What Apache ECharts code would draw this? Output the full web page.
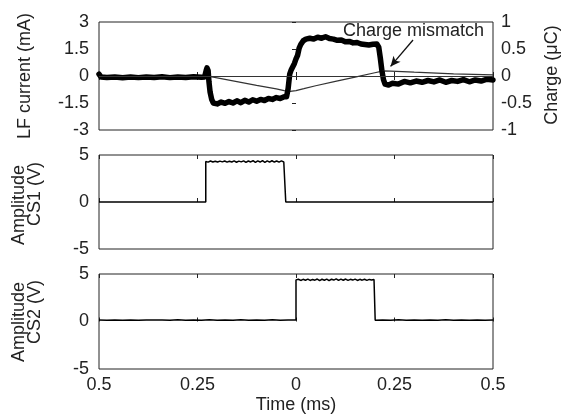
<!DOCTYPE html>
<html><head><meta charset="utf-8">
<script src="https://cdn.jsdelivr.net/npm/echarts@6/dist/echarts.min.js"></script>
<style>html,body{margin:0;padding:0;background:#fff}#c{width:562px;height:415px}</style>
</head><body><div id="c"></div>
<script>
// ---- tick labels ----
const xTickLabels = ['0.5','0.25','0','0.25','0.5'];

// ---- LF current (mA), thick line ----
const curTime = [-0.5,-0.495,-0.48,-0.46,-0.44,-0.42,-0.40,-0.38,-0.36,-0.34,-0.32,-0.30,-0.28,-0.26,-0.24,-0.232,
  -0.228,-0.226,-0.223,-0.221,-0.218,-0.214,-0.21,-0.2,-0.19,-0.18,-0.17,-0.16,-0.15,-0.14,-0.13,-0.12,-0.11,-0.10,
  -0.09,-0.08,-0.07,-0.06,-0.05,-0.04,-0.03,-0.024,-0.02,-0.016,-0.012,-0.008,-0.004,0.0,0.004,0.008,0.012,0.018,
  0.025,0.035,0.045,0.055,0.065,0.075,0.085,0.095,0.105,0.115,0.125,0.135,0.145,0.155,0.165,0.175,0.185,0.195,0.205,
  0.21,0.214,0.218,0.222,0.226,0.235,0.245,0.26,0.275,0.29,0.305,0.32,0.335,0.35,0.365,0.38,0.395,0.41,0.425,0.44,
  0.455,0.47,0.485,0.5];
const currentMA = [0.1,-0.05,-0.08,-0.05,-0.1,-0.06,-0.09,-0.05,-0.08,-0.04,-0.09,-0.06,-0.08,-0.04,-0.07,-0.05,
  0.3,0.45,0.3,-0.3,-0.9,-1.3,-1.5,-1.55,-1.45,-1.52,-1.42,-1.5,-1.38,-1.48,-1.35,-1.45,-1.32,-1.4,
  -1.3,-1.36,-1.25,-1.3,-1.2,-1.25,-1.15,-1.15,-0.7,0.1,0.35,0.4,0.7,0.95,1.15,1.55,1.75,1.95,
  2.05,2.1,2.05,2.15,2.1,2.18,2.08,2.05,1.98,2.0,1.9,1.92,1.84,1.86,1.78,1.75,1.72,1.76,1.78,
  1.6,1.0,0.3,-0.2,-0.45,-0.5,-0.4,-0.45,-0.3,-0.38,-0.28,-0.35,-0.25,-0.33,-0.22,-0.35,-0.25,-0.3,-0.2,-0.32,
  -0.22,-0.28,-0.18,-0.22];

// ---- Charge (uC), thin line ----
const chargeTime = [-0.5,-0.227,-0.2,-0.15,-0.1,-0.05,-0.03,-0.015,0.0,0.02,0.05,0.1,0.15,0.2,0.222,0.24,0.3,0.4,0.5];
const chargeUC   = [0,0,-0.035,-0.105,-0.175,-0.24,-0.27,-0.285,-0.27,-0.235,-0.18,-0.1,-0.02,0.06,0.095,0.09,0.07,0.04,0.02];

// ---- CS1 amplitude (V) ----
const cs1Time = [-0.5,-0.229,
  -0.229,-0.223,-0.217,-0.211,-0.205,-0.199,-0.193,-0.187,-0.181,-0.175,-0.169,-0.163,-0.157,-0.151,-0.145,-0.139,
  -0.133,-0.127,-0.121,-0.115,-0.109,-0.103,-0.097,-0.091,-0.085,-0.079,-0.073,-0.067,-0.061,-0.055,-0.049,-0.043,
  -0.037,-0.031,-0.026,
  -0.026,0.5];
const cs1Volt = [0,0,
  4.3,4.24,4.36,4.26,4.34,4.25,4.35,4.27,4.36,4.24,4.34,4.26,4.37,4.23,4.35,4.27,
  4.38,4.22,4.36,4.26,4.39,4.21,4.37,4.25,4.4,4.22,4.37,4.24,4.39,4.25,4.36,4.24,
  4.37,4.26,4.3,
  0,0];

// ---- CS2 amplitude (V) ----
const cs2Time = [-0.5,-0.48,-0.46,-0.44,-0.42,-0.40,-0.38,-0.36,-0.34,-0.32,-0.30,-0.28,-0.26,-0.24,-0.22,-0.20,
  -0.18,-0.16,-0.14,-0.12,-0.10,-0.08,-0.06,-0.04,-0.02,0.0,
  0.0,0.006,0.012,0.018,0.024,0.030,0.036,0.042,0.048,0.054,0.060,0.066,0.072,0.078,0.084,0.090,0.096,0.102,0.108,
  0.114,0.120,0.126,0.132,0.138,0.144,0.150,0.156,0.162,0.168,0.174,0.180,0.186,0.192,0.198,0.201,
  0.201,0.22,0.24,0.26,0.28,0.30,0.32,0.34,0.36,0.38,0.40,0.42,0.44,0.46,0.48,0.5];
const cs2Volt = [0.15,0.13,0.17,0.14,0.16,0.13,0.17,0.15,0.16,0.13,0.18,0.14,0.17,0.12,0.18,0.13,
  0.17,0.12,0.18,0.13,0.17,0.12,0.18,0.13,0.17,0.15,
  4.38,4.45,4.32,4.44,4.34,4.46,4.32,4.43,4.35,4.47,4.31,4.45,4.34,4.46,4.31,4.45,4.36,4.48,4.32,
  4.46,4.34,4.47,4.33,4.44,4.36,4.46,4.32,4.44,4.35,4.45,4.33,4.43,4.36,4.43,4.38,
  0.13,0.17,0.12,0.18,0.13,0.17,0.12,0.17,0.14,0.18,0.12,0.17,0.13,0.16,0.13,0.15];

// ---- annotation (data coords: time ms, charge uC) ----
const annoText = 'Charge mismatch';
const annoTextPos = [0.298, 0.83];
const annoArrowFrom = [0.297, 0.667];
const annoArrowTo = [0.24, 0.178];

const zip = (a, b) => a.map((t, i) => [t, b[i]]);
const FONT = '"Liberation Sans", Arial, sans-serif';
const TXT = '#222';
const FS = 18;

const chart = echarts.init(document.getElementById('c'), null, {renderer: 'canvas'});

const gridBase = {left: 99, width: 394, show: true, borderColor: '#222', borderWidth: 1, backgroundColor: 'transparent', containLabel: false};
const grids = [
  Object.assign({top: 22, height: 108}, gridBase),
  Object.assign({top: 155, height: 94}, gridBase),
  Object.assign({top: 274, height: 95}, gridBase)
];

function xAx(gi, pos, labels) {
  return {
    type: 'value', gridIndex: gi, position: pos, min: -0.5, max: 0.5, interval: 0.25,
    axisLine: {show: false},
    axisTick: {show: true, inside: true, length: 4, lineStyle: {color: '#222', width: 1}},
    splitLine: {show: false},
    axisLabel: {show: labels, margin: 7, color: TXT, fontSize: FS, fontFamily: FONT,
      formatter: v => xTickLabels[Math.round((v + 0.5) / 0.25)]}
  };
}
function yAx(gi, pos, min, max, interval, ticks) {
  return {
    type: 'value', gridIndex: gi, position: pos, min: min, max: max, interval: interval,
    axisLine: {show: false},
    axisTick: {show: ticks, inside: true, length: 4, lineStyle: {color: '#222', width: 1}},
    splitLine: {show: false},
    axisLabel: {show: true, margin: pos === 'left' ? 10 : 8, color: TXT, fontSize: FS, fontFamily: FONT}
  };
}

const option = {
  animation: false,
  backgroundColor: '#fff',
  grid: grids,
  xAxis: [xAx(0, 'bottom', false), xAx(1, 'bottom', false), xAx(2, 'bottom', true),
          xAx(0, 'top', false), xAx(1, 'top', false), xAx(2, 'top', false)],
  yAxis: [yAx(0, 'left', -3, 3, 1.5, false), yAx(0, 'right', -1, 1, 0.5, true),
          yAx(1, 'left', -5, 5, 5, false), yAx(2, 'left', -5, 5, 5, false)],
  series: [
    {
      name: 'Charge', type: 'line', xAxisIndex: 0, yAxisIndex: 1, data: zip(chargeTime, chargeUC),
      showSymbol: false, symbol: 'none', lineStyle: {color: '#333', width: 1.2}, z: 2,
      markLine: {
        silent: true, symbol: ['none', 'none'], animation: false,
        label: {show: false},
        data: [
          {yAxis: 0, lineStyle: {color: '#333', width: 1, type: 'solid'}},
          [{coord: annoArrowFrom, symbol: 'none'},
           {coord: annoArrowTo, symbol: 'arrow', symbolSize: [7, 10],
            lineStyle: {color: '#111', width: 1.3, type: 'solid'}}]
        ],
        lineStyle: {color: '#111', width: 1.3, type: 'solid'}
      },
      markPoint: {
        silent: true, symbol: 'circle', symbolSize: 1, itemStyle: {color: 'rgba(0,0,0,0)'},
        label: {show: true, position: 'inside', formatter: annoText, color: TXT, fontSize: 18, fontFamily: FONT},
        data: [{coord: annoTextPos}]
      }
    },
    {
      name: 'LF current', type: 'line', xAxisIndex: 0, yAxisIndex: 0, data: zip(curTime, currentMA),
      showSymbol: false, symbol: 'none', lineStyle: {color: '#000', width: 5.5, join: 'round', cap: 'round'}, z: 3
    },
    {
      name: 'CS1', type: 'line', xAxisIndex: 1, yAxisIndex: 2, data: zip(cs1Time, cs1Volt),
      showSymbol: false, symbol: 'none', lineStyle: {color: '#000', width: 1.5}
    },
    {
      name: 'CS2', type: 'line', xAxisIndex: 2, yAxisIndex: 3, data: zip(cs2Time, cs2Volt),
      showSymbol: false, symbol: 'none', lineStyle: {color: '#000', width: 1.5}
    }
  ],
  graphic: [
    {type: 'text', x: 25, y: 76, rotation: Math.PI / 2,
      style: {text: 'LF current (mA)', fill: TXT, fontSize: 18, fontFamily: FONT, align: 'center', verticalAlign: 'middle'}},
    {type: 'text', x: 552, y: 75, rotation: Math.PI / 2,
      style: {text: 'Charge (\u03bcC)', fill: TXT, fontSize: 18, fontFamily: FONT, align: 'center', verticalAlign: 'middle'}},
    {type: 'text', x: 19, y: 205, rotation: Math.PI / 2,
      style: {text: 'Amplitude', fill: TXT, fontSize: 18, fontFamily: FONT, align: 'center', verticalAlign: 'middle'}},
    {type: 'text', x: 35, y: 194, rotation: Math.PI / 2,
      style: {text: 'CS1 (V)', fill: TXT, fontSize: 18, fontFamily: FONT, align: 'center', verticalAlign: 'middle'}},
    {type: 'text', x: 19, y: 322, rotation: Math.PI / 2,
      style: {text: 'Amplitude', fill: TXT, fontSize: 18, fontFamily: FONT, align: 'center', verticalAlign: 'middle'}},
    {type: 'text', x: 35, y: 312, rotation: Math.PI / 2,
      style: {text: 'CS2 (V)', fill: TXT, fontSize: 18, fontFamily: FONT, align: 'center', verticalAlign: 'middle'}},
    {type: 'text', x: 296, y: 405,
      style: {text: 'Time (ms)', fill: TXT, fontSize: 18, fontFamily: FONT, align: 'center', verticalAlign: 'middle'}}
  ]
};
chart.setOption(option);
</script>
</body></html>
